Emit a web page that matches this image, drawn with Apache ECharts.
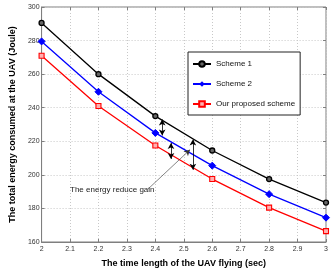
<!DOCTYPE html>
<html><head><meta charset="utf-8">
<script src="https://cdn.jsdelivr.net/npm/echarts@6/dist/echarts.min.js"></script>
<style>html,body{margin:0;padding:0;background:#fff}#c{width:333px;height:273px}</style>
</head><body><div id="c"></div>
<script>
const xValues = [2, 2.2, 2.4, 2.6, 2.8, 3];
const scheme1 = [290.5, 260, 235, 214.5, 197.5, 183.5];
const scheme2 = [279.5, 249.5, 225, 205.5, 188.5, 174.5];
const proposed = [271, 241, 217.5, 197.5, 180.5, 166.5];
const seriesNames = ['Scheme 1', 'Scheme 2', 'Our proposed scheme'];
const gainArrows = [[[2.424, 233], [2.424, 223.5]], [[2.455, 219], [2.455, 209.5]], [[2.532, 221], [2.532, 203]]];
const pointerLine = [[2.374, 191.5], [2.522, 215]];
const noteText = 'The energy reduce gain';
const notePos = [2.1, 191];

const chart = echarts.init(document.getElementById('c'), null, {renderer: 'canvas'});
const font = 'Liberation Sans, Arial, sans-serif';
function pairs(ys) { return xValues.map((x, i) => [x, ys[i]]); }
const axisCol = '#7f7f7f';
chart.setOption({
  animation: false,
  textStyle: {fontFamily: font},
  grid: {left: 29, right: 7, top: 7, bottom: 27, show: true, borderColor: axisCol, borderWidth: 1},
  legend: {
    orient: 'vertical', left: 188, top: 52, width: 109,
    backgroundColor: '#fff', borderColor: '#222', borderWidth: 1,
    padding: [8, 5, 7, 4], itemGap: 12, itemWidth: 18, itemHeight: 7,
    textStyle: {fontSize: 8, color: '#111', fontFamily: font},
    data: seriesNames
  },
  xAxis: [{
    type: 'value', min: 2, max: 3, interval: 0.1,
    name: 'The time length of the UAV flying (sec)', nameLocation: 'middle', nameGap: 17,
    nameTextStyle: {fontSize: 9, fontWeight: 'bold', color: '#000'},
    axisLine: {lineStyle: {color: axisCol}},
    axisTick: {inside: true, length: 3, lineStyle: {color: axisCol}},
    axisLabel: {fontSize: 7, color: '#333', margin: 4, formatter: v => String(Math.round(v * 10) / 10)},
    splitLine: {show: true, lineStyle: {type: [1, 2], color: '#c8c8c8'}}
  }, {
    type: 'value', min: 2, max: 3, interval: 0.1, position: 'top',
    axisLine: {show: false}, axisLabel: {show: false}, splitLine: {show: false},
    axisTick: {inside: true, length: 3, lineStyle: {color: axisCol}}
  }],
  yAxis: [{
    type: 'value', min: 160, max: 300, interval: 20,
    name: 'The total energy consumed at the UAV (Joule)', nameLocation: 'middle', nameGap: 19,
    nameTextStyle: {fontSize: 9, fontWeight: 'bold', color: '#000'},
    axisLine: {show: true, lineStyle: {color: axisCol}},
    axisTick: {show: true, inside: true, length: 3, lineStyle: {color: axisCol}},
    axisLabel: {fontSize: 7, color: '#333', margin: 2},
    splitLine: {show: true, lineStyle: {type: [1, 2], color: '#c8c8c8'}}
  }, {
    type: 'value', min: 160, max: 300, interval: 20, position: 'right',
    axisLine: {show: false}, axisLabel: {show: false}, splitLine: {show: false},
    axisTick: {show: true, inside: true, length: 3, lineStyle: {color: axisCol}}
  }],
  series: [
    {name: seriesNames[0], type: 'line', data: pairs(scheme1), symbol: 'circle', symbolSize: 5,
     lineStyle: {color: '#000', width: 1.3}, itemStyle: {color: '#666', borderColor: '#000', borderWidth: 1.3}},
    {name: seriesNames[1], type: 'line', data: pairs(scheme2), symbol: 'diamond', symbolSize: 7,
     lineStyle: {color: '#0000ff', width: 1.3}, itemStyle: {color: '#0000ff', borderColor: '#0000ff'}},
    {name: seriesNames[2], type: 'line', data: pairs(proposed), symbol: 'rect', symbolSize: 5,
     lineStyle: {color: '#ff0000', width: 1.3}, itemStyle: {color: '#ffb0b0', borderColor: '#ff0000', borderWidth: 1.1},
     markLine: {
       silent: true, animation: false, symbolSize: [5, 6],
       label: {show: false},
       lineStyle: {color: '#000', width: 0.8, type: 'solid'},
       data: gainArrows.map(a => [{coord: a[0], symbol: 'arrow'}, {coord: a[1], symbol: 'arrow'}])
         .concat([[{coord: pointerLine[0], symbol: 'none', lineStyle: {color: '#333', width: 0.6}}, {coord: pointerLine[1], symbol: 'arrow'}]])
     },
     markPoint: {
       silent: true, symbol: 'circle', symbolSize: 0,
       label: {show: true, position: 'right', distance: 0, formatter: noteText, fontSize: 8, color: '#222', fontFamily: font},
       data: [{coord: notePos}]
     }}
  ]
});
</script></body></html>
